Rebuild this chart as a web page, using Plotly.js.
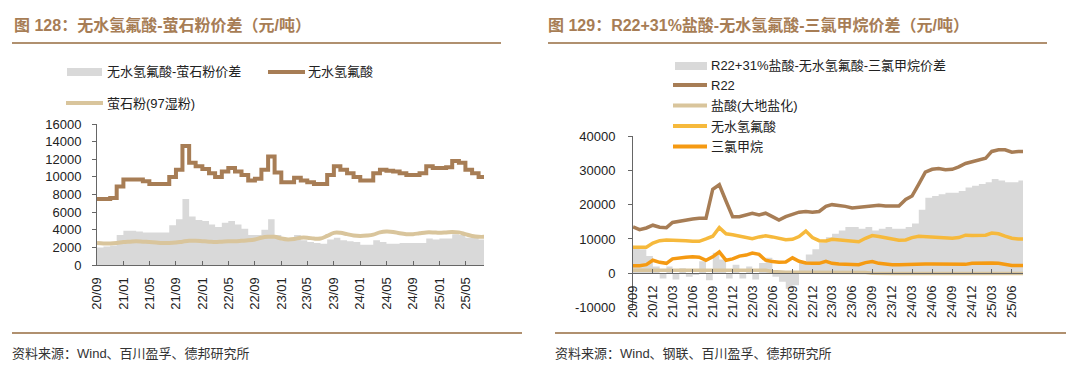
<!DOCTYPE html>
<html><head><meta charset="utf-8">
<script src="https://cdn.plot.ly/plotly-3.0.1.min.js"></script>
<style>html,body{margin:0;padding:0;background:#fff}#chart{width:1080px;height:376px}</style>
</head><body><div id="chart"></div><script>
// ---------- Left chart data (monthly, from 2020-09) ----------
const leftStart = [2020, 9];
const hfLeft = [7500,7500,7600,8900,9700,9700,9700,9500,9200,9200,
  9200,10000,10800,13500,11600,11200,10900,10400,10000,10600,
  11000,10600,10200,9600,9800,10800,12300,10500,9400,9400,
  9900,9600,9400,9200,9200,10200,11200,10800,10400,10000,
  9600,9600,10400,10800,10700,10600,10400,10200,10200,10400,
  11200,11000,11000,11100,11800,11600,10800,10400,10000,10000];
const fluorLeft = [2500,2450,2450,2500,2600,2650,2700,2650,2600,2550,
  2500,2500,2550,2650,2750,2750,2700,2650,2600,2650,
  2700,2700,2750,2800,2900,3100,3200,3200,3000,2900,
  2950,3100,3100,3000,3000,3300,3650,3650,3500,3350,
  3300,3350,3450,3700,3800,3750,3600,3500,3500,3600,
  3700,3700,3650,3700,3750,3700,3500,3300,3200,3200];
const spreadLeft = [2000,2100,2200,3400,3900,3900,3800,3700,3700,3700,
  3700,4500,5200,7500,5500,5100,5000,4600,4300,4800,
  5000,4600,4100,3400,3400,4000,5200,3400,2800,3000,
  3400,2800,2600,2500,2400,2900,3100,2800,2700,2600,
  2300,2300,2800,2600,2400,2400,2500,2500,2500,2500,
  3000,2900,3000,3000,3500,3400,3100,3100,2900,2900];
const leftTicks = ['20/09','21/01','21/05','21/09','22/01','22/05','22/09','23/01','23/05','23/09','24/01','24/05','24/09','25/01','25/05'];
const leftYTicks = ['0','2000','4000','6000','8000','10000','12000','14000','16000'];
const leftNames = ['无水氢氟酸-萤石粉价差','无水氢氟酸','萤石粉(97湿粉)'];

// ---------- Right chart data (monthly, from 2020-09) ----------
const rightStart = [2020, 9];
const r22 = [13500,12700,13200,14000,13400,13300,14800,15200,15500,15800,
  16000,16000,24500,25800,21000,16500,16500,17000,17500,17000,
  17500,16500,15500,16500,17300,17800,18000,17800,18000,19500,
  20000,19800,19500,19000,19200,19500,19800,19800,19600,19500,
  19600,21500,22500,26000,29500,30300,30500,30200,30300,31000,
  32000,32500,33000,33500,35500,36000,36000,35300,35500,35500];
const hclRight = [900,900,900,900,900,900,900,900,900,900,
  900,900,900,900,900,900,900,900,900,900,
  900,500,300,300,300,300,300,300,300,300,
  300,300,300,300,300,200,0,-100,-100,-100,
  -100,-100,-100,-100,-100,-100,-100,-100,-100,-100,
  -100,-100,-100,-100,-100,-100,-100,-100,-100,-100];
const hfRight = [7600,7500,7600,8800,9500,9700,9700,9700,9500,9300,
  9300,10000,10800,13300,11500,11200,10900,10500,10100,10600,
  10900,10600,10200,9800,9900,10700,12300,10400,9500,9400,
  9900,9700,9400,9200,9200,10200,11000,10700,10400,10000,
  9600,9700,10400,10800,10700,10600,10400,10200,10200,10400,
  11100,11000,11000,11100,11700,11500,10800,10200,10000,10000];
const chcl3Right = [2200,2200,2500,3800,3200,2900,4200,4500,4700,4800,
  4700,3800,4800,6200,3800,4200,5000,5300,5900,5500,
  3800,3400,3200,3300,4500,3500,3000,2900,2900,3500,
  2900,2700,2600,2500,2500,3100,3400,2900,2600,2500,
  2500,2600,2700,2700,2700,2700,2700,2600,2600,2600,
  2600,2900,3000,3000,3000,2900,2500,2300,2300,2300];
const spreadRight = [7300,7000,5000,2000,-1500,2000,-1800,1500,-1000,-500,
  3500,-2000,6000,4000,-1500,2500,-1500,2000,-1800,3000,
  4500,-1000,-2500,-4500,-3500,3500,5500,7000,9000,10500,
  11500,12500,13500,13500,13000,13500,12500,13000,13500,13000,
  13000,13500,14500,18500,22000,22500,23000,23500,23500,24000,
  25000,25500,26000,26500,27500,27000,26500,26500,27000,27000];
const rightTicks = ['20/09','20/12','21/03','21/06','21/09','21/12','22/03','22/06','22/09','22/12','23/03','23/06','23/09','23/12','24/03','24/06','24/09','24/12','25/03','25/06'];
const rightYTicks = ['-10000','0','10000','20000','30000','40000'];
const rightNames = ['R22+31%盐酸-无水氢氟酸-三氯甲烷价差','R22','盐酸(大地盐化)','无水氢氟酸','三氯甲烷'];

// ---------- helpers ----------
function months(start, n){
  const out=[];
  for(let i=0;i<n;i++){
    const t=start[1]-1+i;
    const yy=start[0]+Math.floor(t/12), mm=(t%12)+1;
    out.push(yy+'-'+String(mm).padStart(2,'0')+'-01');
  }
  return out;
}
function tickDate(lbl){ const p=lbl.split('/'); return '20'+p[0]+'-'+p[1]+'-01'; }
const W=1080,H=376;
const px=x=>x/W, py=y=>1-y/H;

const C = {gray:'#d9d9d9', brown:'#a77d55', tan:'#d9c59c', yellow:'#f6b93c', orange:'#f59a12', title:'#a77d55', rule:'#b0906f'};
const FONT = 'Liberation Sans, Arial, Noto Sans CJK SC, sans-serif';

const xl = months(leftStart, hfLeft.length);
const xr = months(rightStart, r22.length);

const traces = [
  {x:xl, y:spreadLeft, type:'scatter', mode:'lines', line:{width:0, shape:'hv'}, fill:'tozeroy', fillcolor:C.gray, name:leftNames[0], xaxis:'x', yaxis:'y'},
  {x:xl, y:fluorLeft, type:'scatter', mode:'lines', line:{width:4, color:C.tan, shape:'spline'}, name:leftNames[2], xaxis:'x', yaxis:'y'},
  {x:xl, y:hfLeft, type:'scatter', mode:'lines', line:{width:4, color:C.brown, shape:'hv'}, name:leftNames[1], xaxis:'x', yaxis:'y'},
  {x:xr, y:spreadRight, type:'scatter', mode:'lines', line:{width:0, shape:'hv'}, fill:'tozeroy', fillcolor:C.gray, name:rightNames[0], xaxis:'x2', yaxis:'y2'},
  {x:xr, y:hclRight, type:'scatter', mode:'lines', line:{width:3.5, color:C.tan}, name:rightNames[2], xaxis:'x2', yaxis:'y2'},
  {x:xr, y:chcl3Right, type:'scatter', mode:'lines', line:{width:3.5, color:C.orange}, name:rightNames[4], xaxis:'x2', yaxis:'y2'},
  {x:xr, y:hfRight, type:'scatter', mode:'lines', line:{width:3.5, color:C.yellow}, name:rightNames[3], xaxis:'x2', yaxis:'y2'},
  {x:xr, y:r22, type:'scatter', mode:'lines', line:{width:3.5, color:C.brown}, name:rightNames[1], xaxis:'x2', yaxis:'y2'}
];

const axisCommon = {showgrid:false, zeroline:false, showline:true, linecolor:'#666', linewidth:1, tickcolor:'#666', tickfont:{family:FONT, size:13, color:'#222'}};

const shapes = [
  {type:'line', xref:'paper', yref:'paper', x0:px(12), x1:px(501), y0:py(43), y1:py(43), line:{color:C.rule, width:2}},
  {type:'line', xref:'paper', yref:'paper', x0:px(548), x1:px(1047), y0:py(43), y1:py(43), line:{color:C.rule, width:2}},
  {type:'line', xref:'paper', yref:'paper', x0:px(12), x1:px(522), y0:py(333), y1:py(333), line:{color:C.rule, width:2}},
  {type:'line', xref:'paper', yref:'paper', x0:px(555), x1:px(1066), y0:py(333), y1:py(333), line:{color:C.rule, width:2}},
  {type:'rect', xref:'paper', yref:'paper', x0:px(67), x1:px(102), y0:py(76), y1:py(68), fillcolor:C.gray, line:{width:0}},
  {type:'line', xref:'paper', yref:'paper', x0:px(268), x1:px(305), y0:py(72), y1:py(72), line:{color:C.brown, width:4}},
  {type:'line', xref:'paper', yref:'paper', x0:px(66), x1:px(103), y0:py(103), y1:py(103), line:{color:C.tan, width:4}},
  {type:'rect', xref:'paper', yref:'paper', x0:px(675), x1:px(707), y0:py(70), y1:py(62), fillcolor:C.gray, line:{width:0}},
  {type:'line', xref:'paper', yref:'paper', x0:px(673), x1:px(707), y0:py(85), y1:py(85), line:{color:C.brown, width:4}},
  {type:'line', xref:'paper', yref:'paper', x0:px(673), x1:px(707), y0:py(105.5), y1:py(105.5), line:{color:C.tan, width:4}},
  {type:'line', xref:'paper', yref:'paper', x0:px(673), x1:px(707), y0:py(126), y1:py(126), line:{color:C.yellow, width:4}},
  {type:'line', xref:'paper', yref:'paper', x0:px(673), x1:px(707), y0:py(146.5), y1:py(146.5), line:{color:C.orange, width:4}}
];

function ann(text, x, y, size, color){
  return {text:text, xref:'paper', yref:'paper', x:px(x), y:py(y), xanchor:'left', yanchor:'middle', showarrow:false, font:{family:FONT, size:size, color:color}};
}
const annotations = [
  ann('<b>图 128：无水氢氟酸-萤石粉价差（元/吨）</b>', 12, 25, 16, C.title),
  ann('<b>图 129：R22+31%盐酸-无水氢氟酸-三氯甲烷价差（元/吨）</b>', 546, 25, 16, C.title),
  ann('资料来源：Wind、百川盈孚、德邦研究所', 10, 353, 13, '#333'),
  ann('资料来源：Wind、钢联、百川盈孚、德邦研究所', 553, 353, 13, '#333'),
  ann(leftNames[0], 105, 72, 13, '#222'),
  ann(leftNames[1], 306, 72, 13, '#222'),
  ann(leftNames[2], 105, 103, 13, '#222'),
  ann(rightNames[0], 709, 66, 13, '#222'),
  ann(rightNames[1], 709, 85, 13, '#222'),
  ann(rightNames[2], 709, 105.5, 13, '#222'),
  ann(rightNames[3], 709, 126, 13, '#222'),
  ann(rightNames[4], 709, 146.5, 13, '#222')
];

const layout = {
  width:W, height:H, margin:{l:0, r:0, t:0, b:0}, paper_bgcolor:'#fff', plot_bgcolor:'rgba(0,0,0,0)',
  showlegend:false,
  xaxis:Object.assign({}, axisCommon, {domain:[px(97), px(484)], anchor:'y', type:'date', range:['2020-09-01','2025-07-26'],
    tickmode:'array', tickvals:leftTicks.map(tickDate), ticktext:leftTicks, tickangle:-90, ticks:'inside', ticklen:4, ticklabelstandoff:6}),
  yaxis:Object.assign({}, axisCommon, {domain:[py(265), py(124)], anchor:'x', range:[0,16000],
    tickmode:'array', tickvals:leftYTicks.map(Number), ticktext:leftYTicks, ticks:'outside', ticklen:4, ticklabelstandoff:8}),
  xaxis2:Object.assign({}, axisCommon, {domain:[px(633), px(1023)], anchor:'free', position:py(273.3), type:'date', range:['2020-09-01','2025-07-22'],
    tickmode:'array', tickvals:rightTicks.map(tickDate), ticktext:rightTicks, tickangle:-90, ticks:'inside', ticklen:4, ticklabelstandoff:6}),
  yaxis2:Object.assign({}, axisCommon, {domain:[py(307.6), py(136)], anchor:'x2', range:[-10000,40000],
    tickmode:'array', tickvals:rightYTicks.map(Number), ticktext:rightYTicks, ticks:'outside', ticklen:4, ticklabelstandoff:10}),
  shapes:shapes, annotations:annotations
};
Plotly.newPlot('chart', traces, layout, {staticPlot:true, displayModeBar:false});
</script></body></html>
